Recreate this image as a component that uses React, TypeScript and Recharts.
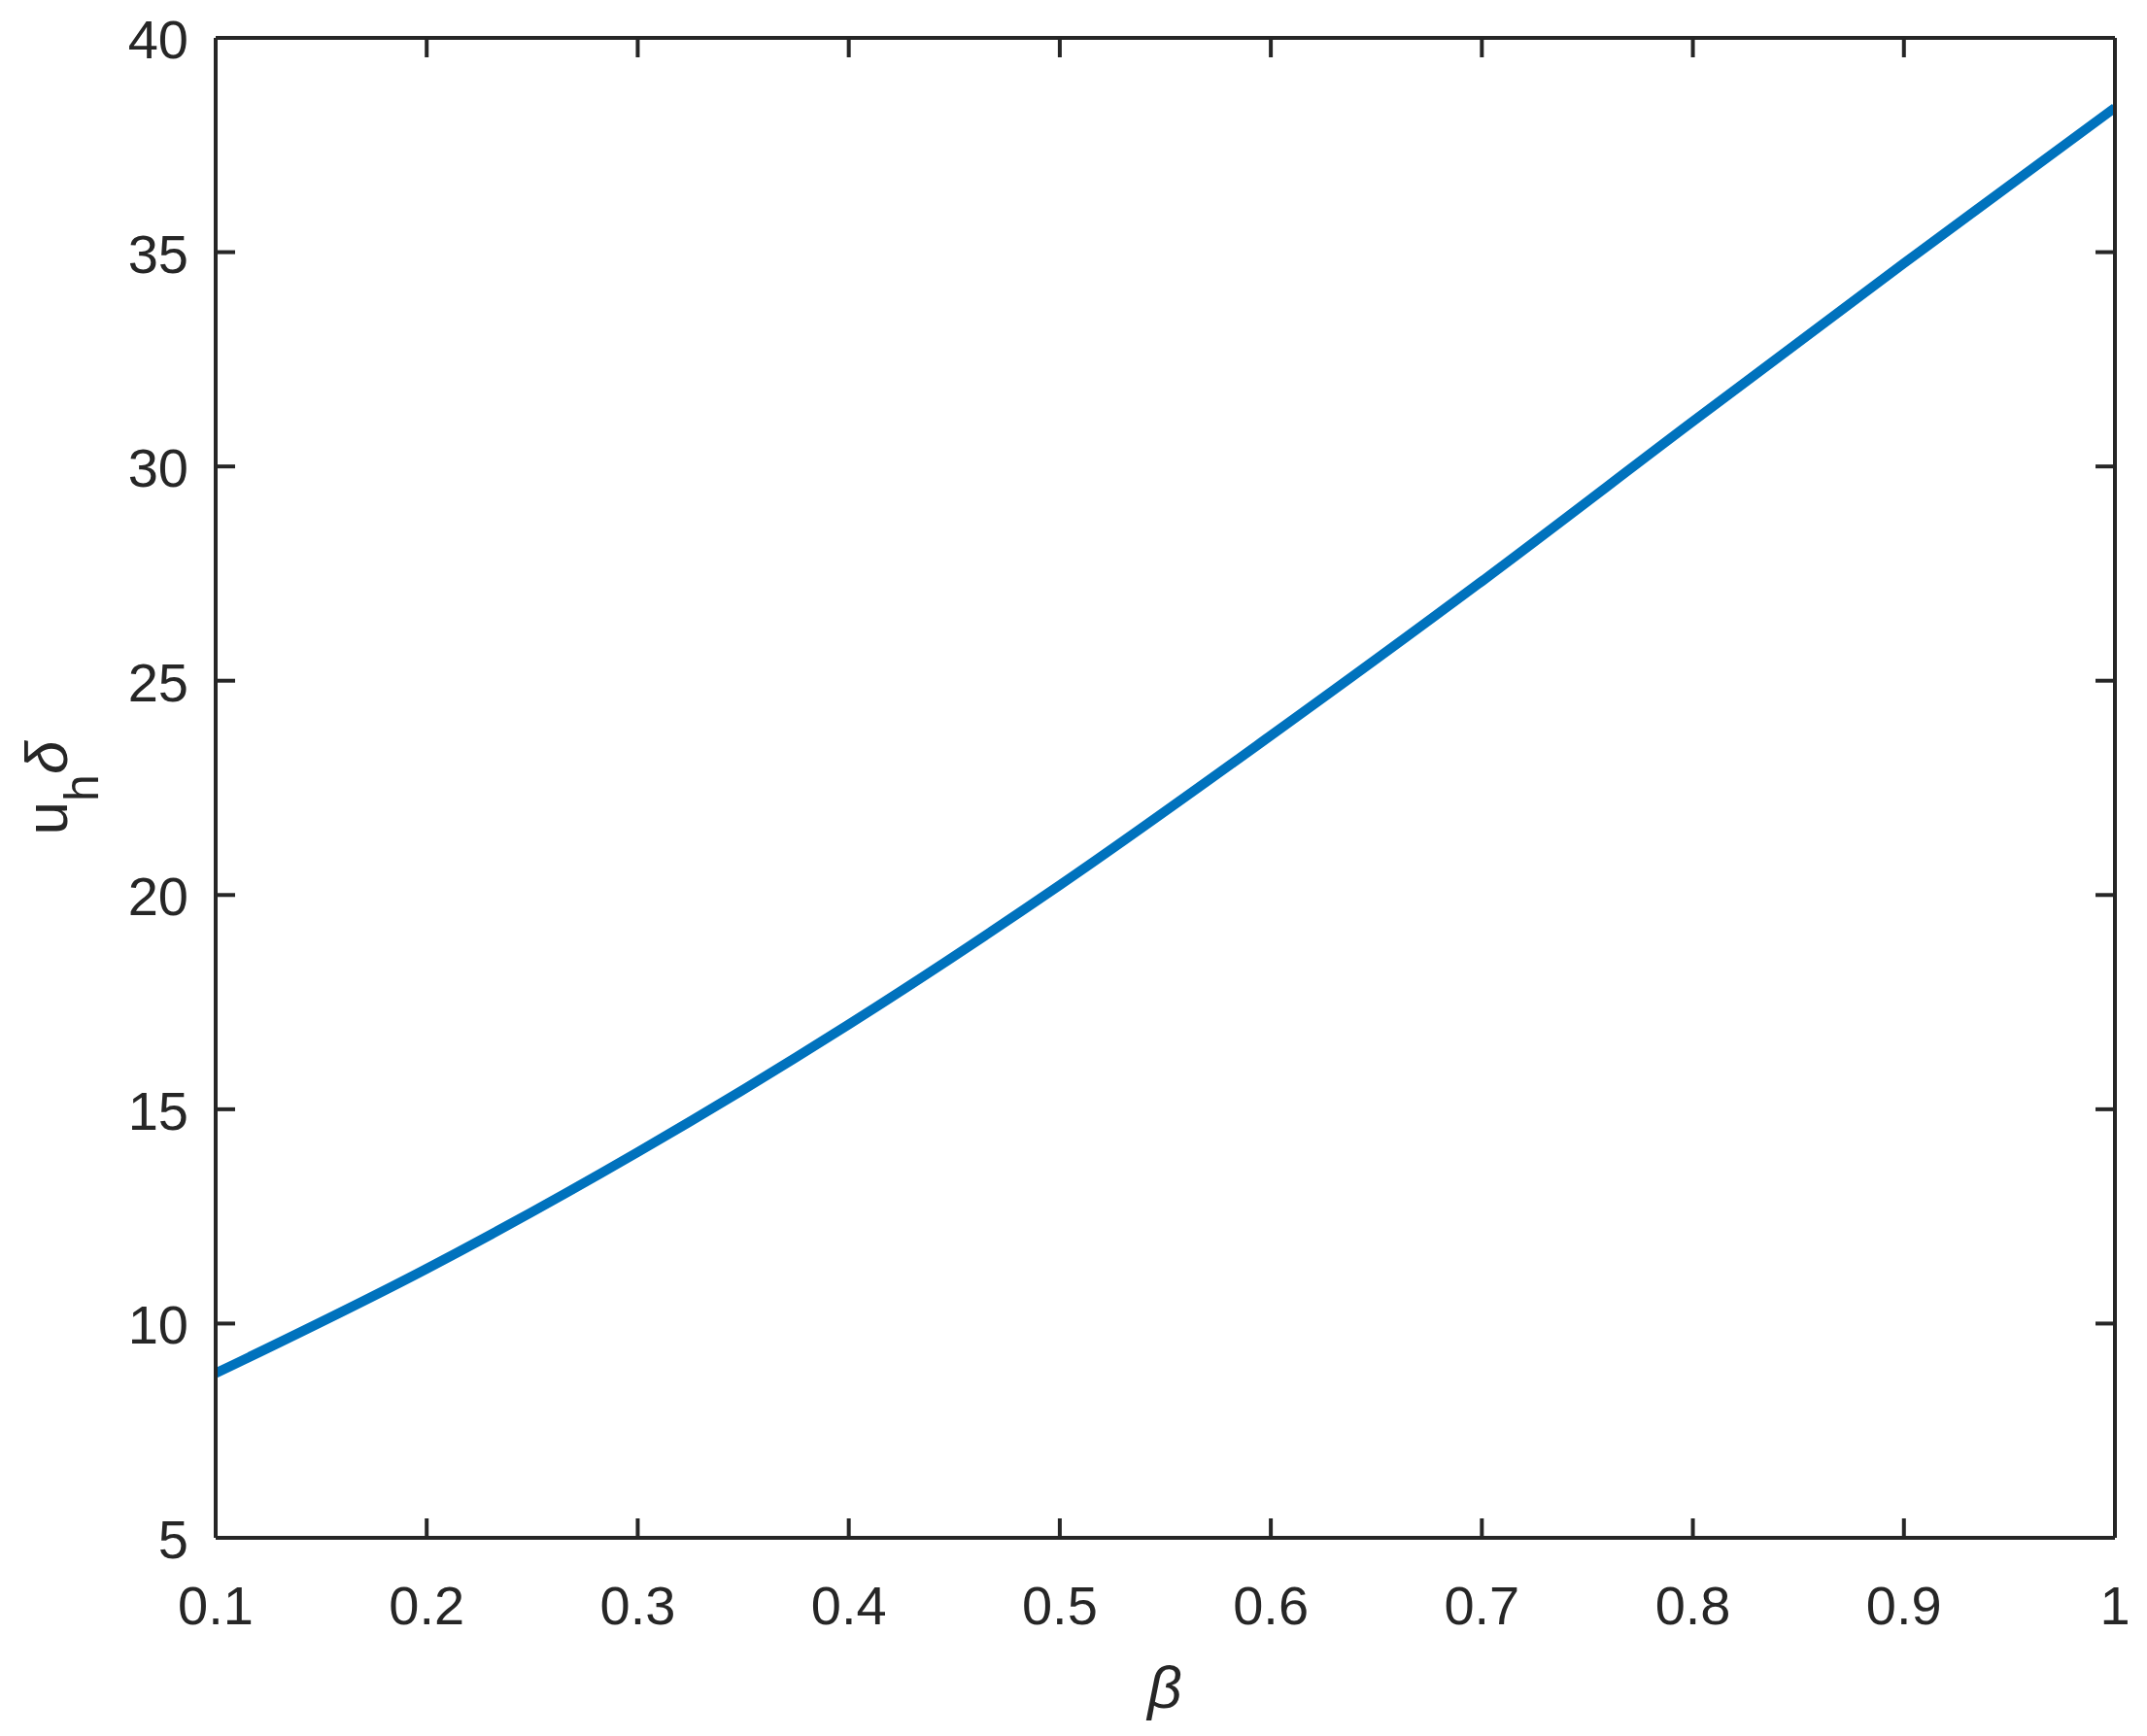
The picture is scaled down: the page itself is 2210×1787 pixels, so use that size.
import React from 'react';
import { LineChart, Line, XAxis, YAxis } from 'recharts';

const betaValues = [0.1, 0.2, 0.3, 0.4, 0.5, 0.6, 0.7, 0.8, 0.9, 1.0];
const uhDelta = [8.84, 11.28, 14.0, 16.98, 20.23, 23.72, 27.32, 31.05, 34.74, 38.37];
const xTicks = [0.1, 0.2, 0.3, 0.4, 0.5, 0.6, 0.7, 0.8, 0.9, 1];
const yTicks = [5, 10, 15, 20, 25, 30, 35, 40];

const data = betaValues.map((b, i) => ({ beta: b, v: uhDelta[i] }));

const AX = '#262626';
const FONT = '"Liberation Sans", Arial, Helvetica, sans-serif';
const TICK_FS = 56;
const TICK_LEN = 20;
const AXW = 4;

const BottomTick = (props: any) => {
  const { x, y, payload } = props;
  return (
    <g>
      <line x1={x} y1={y} x2={x} y2={y - TICK_LEN} stroke={AX} strokeWidth={AXW} />
      <text x={x} y={y + 89} textAnchor="middle" fontFamily={FONT} fontSize={TICK_FS} fill={AX}>
        {String(payload.value)}
      </text>
    </g>
  );
};

const TopTick = (props: any) => {
  const { x, y } = props;
  return <line x1={x} y1={y} x2={x} y2={y + TICK_LEN} stroke={AX} strokeWidth={AXW} />;
};

const LeftTick = (props: any) => {
  const { x, y, payload } = props;
  return (
    <g>
      <line x1={x} y1={y} x2={x + TICK_LEN} y2={y} stroke={AX} strokeWidth={AXW} />
      <text x={x - 28} y={y + 21} textAnchor="end" fontFamily={FONT} fontSize={TICK_FS} fill={AX}>
        {String(payload.value)}
      </text>
    </g>
  );
};

const RightTick = (props: any) => {
  const { x, y } = props;
  return <line x1={x} y1={y} x2={x - TICK_LEN} y2={y} stroke={AX} strokeWidth={AXW} />;
};

const XLabel = () => (
  <text x={1199} y={1758} textAnchor="middle" fontFamily={FONT} fontStyle="italic" fontSize={62} fill={AX}>
    β
  </text>
);

const YLabel = () => (
  <text
    x={69}
    y={811}
    transform="rotate(-90, 69, 811)"
    textAnchor="middle"
    fontFamily={FONT}
    fontSize={62}
    fill={AX}
  >
    u
    <tspan dy={32} fontSize={50}>h</tspan>
    <tspan dy={-32} fontStyle="italic">δ</tspan>
  </text>
);

const axisLineStyle = { stroke: AX, strokeWidth: AXW };

export default function App() {
  return (
    <div style={{ position: 'absolute', left: 0, top: 0, width: 2210, height: 1787, background: '#fff' }}>
      <LineChart width={2210} height={1787} data={data} margin={{ top: 0, right: 0, bottom: 0, left: 0 }}>
        <XAxis
          xAxisId="b"
          dataKey="beta"
          type="number"
          domain={[0.1, 1]}
          ticks={xTicks}
          interval={0}
          height={204}
          orientation="bottom"
          axisLine={axisLineStyle}
          tickLine={false}
          tickSize={0}
          tickMargin={0}
          tick={<BottomTick />}
          allowDataOverflow
          label={{ content: () => <XLabel /> }}
        />
        <XAxis
          xAxisId="t"
          dataKey="beta"
          type="number"
          domain={[0.1, 1]}
          ticks={xTicks}
          interval={0}
          height={39}
          orientation="top"
          axisLine={axisLineStyle}
          tickLine={false}
          tickSize={0}
          tickMargin={0}
          tick={<TopTick />}
          allowDataOverflow
        />
        <YAxis
          yAxisId="l"
          type="number"
          domain={[5, 40]}
          ticks={yTicks}
          interval={0}
          width={222}
          orientation="left"
          axisLine={axisLineStyle}
          tickLine={false}
          tickSize={0}
          tickMargin={0}
          tick={<LeftTick />}
          allowDataOverflow
          label={{ content: () => <YLabel /> }}
        />
        <YAxis
          yAxisId="r"
          type="number"
          domain={[5, 40]}
          ticks={yTicks}
          interval={0}
          width={33}
          orientation="right"
          axisLine={axisLineStyle}
          tickLine={false}
          tickSize={0}
          tickMargin={0}
          tick={<RightTick />}
          allowDataOverflow
        />
        <Line
          xAxisId="b"
          yAxisId="l"
          type="monotone"
          dataKey="v"
          stroke="#0072BD"
          strokeWidth={10}
          dot={false}
          activeDot={false}
          isAnimationActive={false}
        />
      </LineChart>
    </div>
  );
}
